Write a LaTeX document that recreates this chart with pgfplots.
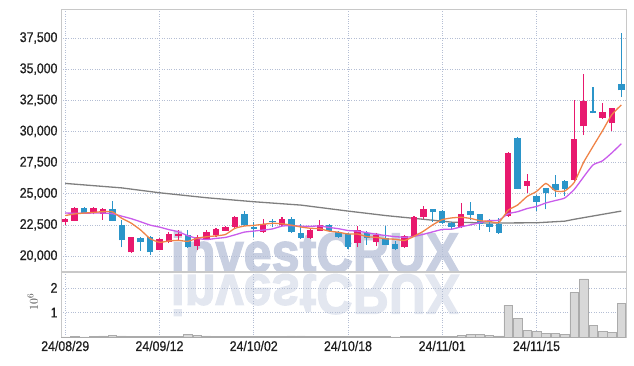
\documentclass[border=0pt]{standalone}
\usepackage{fontspec}
\setmainfont{Liberation Sans}[FakeStretch=0.88, FakeBold=0.6]
\newfontfamily\wmfont{Liberation Sans Bold}[FakeBold=2.5]
\usepackage{pgfplots}
\usepackage{pgfplotstable}
\pgfplotsset{compat=1.18}

\definecolor{cred}{HTML}{E8196E}
\definecolor{cblue}{HTML}{2B95C9}
\definecolor{corange}{HTML}{F08448}
\definecolor{cpurple}{HTML}{C95CEB}
\definecolor{cgray}{HTML}{7F7F7F}
\definecolor{gridc}{HTML}{B4BED4}
\definecolor{framec}{HTML}{C8C8C8}
\definecolor{volfill}{HTML}{D8D8D8}
\definecolor{voldraw}{HTML}{ABABAB}
\definecolor{wm}{HTML}{C8CFE1}
\definecolor{wmr}{HTML}{E3E7F0}

% up candles (close > open): index open high low close
\pgfplotstableread{
i o h l c
0 22700 23050 22500 22950
1 22850 23900 22800 23850
3 23450 23950 23350 23850
4 23400 23850 22900 23750
7 20300 21550 20250 21500
10 20500 21450 20450 21350
11 21100 21900 21050 21800
12 21600 22100 21300 21750
14 20800 21650 20450 21550
15 21400 22100 21300 21950
16 21650 22250 21550 22150
17 22050 22400 22000 22300
18 22300 23250 22250 23150
21 21950 22950 21850 22600
23 22500 23100 22450 22950
26 21450 22150 21400 22100
27 22050 22900 22000 22500
31 21050 22400 20700 22100
33 21100 21850 20800 21700
36 20700 21700 20650 21600
37 21600 23200 21550 23100
38 23100 24050 22950 23750
42 22350 24250 22250 23350
47 23250 28350 23150 28300
49 25650 26600 25100 26000
54 26100 32500 26050 29400
55 30400 34600 29700 32450
57 31100 32250 31000 31550
58 30650 31900 30050 31850
}\tUp

% down candles (close < open)
\pgfplotstableread{
i o h l c
2 23850 23950 23400 23450
5 23750 24450 22800 22850
6 22500 22900 20700 21250
8 21450 21500 20400 21100
9 21500 21600 20100 20300
13 21700 22100 20650 20700
19 23350 23600 22450 22500
20 22350 22750 21500 22200
22 22850 22950 22300 22700
24 22950 23150 21850 21950
25 21850 22600 21400 21450
28 22500 22550 21900 22000
29 21900 22000 21450 21500
30 21750 21850 20600 20750
32 21850 22050 20900 21450
34 21450 22400 20850 20900
35 21000 21200 20450 20600
39 23750 23800 22750 23500
40 23650 23700 22550 22650
41 22650 22750 22100 22300
43 23600 24300 22900 23300
44 23350 23400 22100 22600
45 22550 22950 21950 22350
46 22550 23050 21800 21850
48 29500 29550 25350 25400
50 24850 24900 23650 24350
51 25450 25500 23750 25100
52 25800 26500 24750 25300
53 26050 26100 24800 25350
56 31650 33550 31450 31500
59 33800 37900 32750 33300
}\tDown

% moving averages: index ma5 ma10
\pgfplotstableread{
i a b
0 23250 23450
1 23380 23440
2 23450 23440
3 23500 23450
4 23570 23450
5 23550 23400
6 23030 23200
7 22640 23000
8 22090 22750
9 21400 22485
10 21100 22325
11 21210 22120
12 21260 21950
13 21180 21635
14 21430 21415
15 21550 21325
16 21620 21415
17 21730 21495
18 22220 21700
19 22410 21920
20 22460 22005
21 22550 22085
22 22630 22180
23 22590 22405
24 22480 22445
25 22330 22395
26 22230 22390
27 22190 22410
28 22000 22295
29 21910 22195
30 21770 22050
31 21770 22000
32 21560 21875
33 21500 21750
34 21380 21645
35 21350 21560
36 21250 21510
37 21580 21570
38 21990 21745
39 22510 21945
40 22920 22135
41 23060 22155
42 23110 22345
43 23020 22505
44 22840 22675
45 22780 22850
46 22690 22875
47 23680 23395
48 24100 23560
49 24780 23810
50 25180 23980
51 25830 24260
52 25230 24455
53 25220 24660
54 25900 25340
55 27520 26350
56 28800 27315
57 30050 27640
58 31350 28285
59 32130 29015
}\tMa

% long moving average (grey)
\pgfplotstableread{
i g
0 25830
6 25470
10 25080
15 24680
20 24360
25 24090
30 23610
34 23250
38 22950
41 22720
45 22650
50 22670
53 22800
54 22950
59 23610
}\tMg

% volume in millions
\pgfplotstableread{
i v
0 0.02
1 0.03
2 0.02
3 0.03
4 0.06
5 0.07
6 0.06
7 0.03
8 0.04
9 0.05
10 0.03
11 0.03
12 0.04
13 0.12
14 0.07
15 0.06
16 0.03
17 0.03
18 0.05
19 0.03
20 0.03
21 0.03
22 0.03
23 0.03
24 0.06
25 0.06
26 0.03
27 0.03
28 0.04
29 0.03
30 0.05
31 0.05
32 0.03
33 0.05
34 0.03
35 0.02
36 0.03
37 0.05
38 0.05
39 0.05
40 0.05
41 0.04
42 0.08
43 0.12
44 0.12
45 0.07
46 0.06
47 1.30
48 0.78
49 0.28
50 0.24
51 0.16
52 0.16
53 0.12
54 1.82
55 2.36
56 0.47
57 0.24
58 0.20
59 1.37
}\tVol

\begin{document}
\begin{tikzpicture}
\useasboundingbox (0,0) rectangle (634pt,366pt);
% watermark and its reflection
\node[anchor=base, inner sep=0, xscale=0.9, text=wm,
      font=\wmfont\fontsize{56}{60}\selectfont] at (315pt,94pt) {investCRUX};
\node[anchor=base, inner sep=0, xscale=0.9, yscale=-1, text=wmr,
      font=\wmfont\fontsize{56}{60}\selectfont] at (315pt,91pt) {investCRUX};

\pgfplotsset{
  common/.style={
    scale only axis, width=565pt,
    xmin=-0.45, xmax=59.5,
    xtick={0,10,20,30,40,50},
    grid=major,
    major grid style={gridc, dotted, line width=0.6pt},
    axis line style={framec, line width=0.6pt},
    major tick length=0pt,
    scaled y ticks=false,
    /pgf/number format/fixed,
    /pgf/number format/1000 sep={,},
    /pgf/number format/assume math mode=true,
    ticklabel style={font=\fontsize{14}{16}\selectfont, text=black!88},
  },
  candle/.style={draw=none, mark=none, error bars/.cd, y dir=plus, y explicit, error mark=none},
}

\begin{axis}[common,
  at={(61pt,95pt)}, anchor=south west, height=262pt,
  ymin=18800, ymax=39830,
  ytick={20000,22500,25000,27500,30000,32500,35000,37500},
  xticklabels={},
]
% grey long MA
\addplot[cgray, line width=1.3pt, mark=none] table[x=i, y=g] {\tMg};
% wicks
\addplot[candle, error bar style={draw=cred, line width=1.1pt}]
  table[x=i, y=l, y error expr=\thisrow{h}-\thisrow{l}] {\tUp};
\addplot[candle, error bar style={draw=cblue, line width=1.1pt}]
  table[x=i, y=l, y error expr=\thisrow{h}-\thisrow{l}] {\tDown};
% bodies
\addplot[candle, error bar style={draw=cred, line width=6.4pt}]
  table[x=i, y=o, y error expr=\thisrow{c}-\thisrow{o}] {\tUp};
\addplot[candle, error bar style={draw=cblue, line width=6.4pt}]
  table[x=i, y=c, y error expr=\thisrow{o}-\thisrow{c}] {\tDown};
% moving averages
\addplot[cpurple, line width=1.3pt, mark=none, smooth, tension=0.3] table[x=i, y=b] {\tMa};
\addplot[corange, line width=1.3pt, mark=none, smooth, tension=0.3] table[x=i, y=a] {\tMa};
\end{axis}

\begin{axis}[common,
  at={(61pt,28.7pt)}, anchor=south west, height=65.3pt,
  ymin=0, ymax=2.64,
  ytick={1,2},
  xticklabels={24/08/29,24/09/12,24/10/02,24/10/18,24/11/01,24/11/15},
  ylabel={$10^6$},
  ylabel style={at={(axis description cs:-0.05,0.54)}, anchor=center, font=\fontsize{13}{14}\selectfont, text=black!75},
]
\addplot[ybar, bar width=8.6pt, fill=volfill, draw=voldraw, line width=0.4pt]
  table[x=i, y=v] {\tVol};
\end{axis}
\end{tikzpicture}
\end{document}
